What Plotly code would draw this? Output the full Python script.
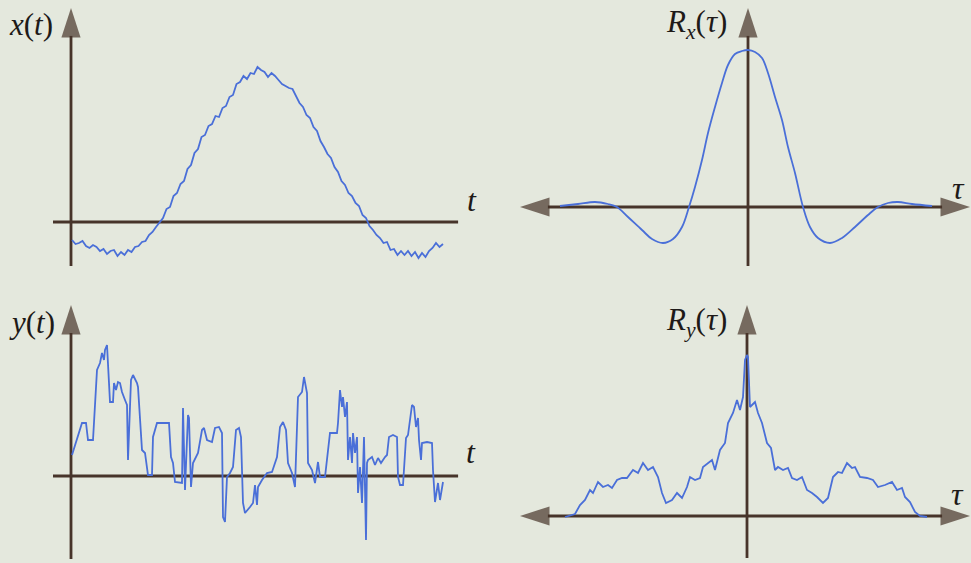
import plotly.graph_objects as go

W, H = 971, 563

# ---------------- data (arbitrary units) ----------------
# x(t): uniformly sampled noisy slow wave
X_T0, X_DT = 1.0, 3.5
X_VALUES = [-18, -22, -21, -19, -24, -26, -23, -25, -29, -27, -32, -29, -28, -34, -30, -33,
            -28, -30, -25, -24, -20, -19, -13, -10, -5, 0, 4, 13, 15, 26, 29, 38, 41, 53, 57,
            69, 73, 85, 87, 96, 98, 106, 105, 114, 116, 125, 127, 138, 140, 146, 143, 149, 148,
            155, 152, 150, 145, 149, 146, 142, 138, 136, 134, 133, 126, 119, 115, 107, 104, 95,
            91, 81, 75, 68, 64, 55, 50, 41, 37, 29, 26, 19, 16, 7, 4, -4, -8, -13, -16, -21,
            -20, -28, -27, -33, -29, -33, -29, -34, -30, -36, -31, -35, -29, -26, -21, -25, -22]

# y(t): random-looking signal with abrupt jumps
Y_T = [1, 9, 11, 15, 17, 22, 26, 29, 31, 33, 34, 36, 37, 39, 42, 43, 45, 47, 49, 51, 54, 56,
       57, 58, 60, 62, 66, 67, 71, 74, 77, 81, 82, 86, 98, 100, 102, 104, 111, 112, 114, 117,
       118, 120, 122, 127, 131, 133, 136, 141, 144, 148, 151, 152, 154, 156, 159, 162, 165,
       168, 170, 172, 174, 179, 182, 184, 186, 187, 191, 196, 201, 206, 209, 212, 215, 217,
       221, 224, 227, 231, 233, 236, 237, 241, 244, 247, 249, 254, 259, 266, 267, 269, 271,
       272, 274, 276, 277, 279, 281, 282, 284, 286, 287, 289, 291, 293, 295, 296, 297, 301,
       304, 307, 310, 314, 316, 318, 322, 326, 327, 329, 332, 335, 337, 341, 343, 345, 347,
       348, 350, 351, 356, 361, 362, 364, 367, 369, 372]
Y_VALUES = [21, 46, 53, 53, 36, 36, 106, 113, 123, 116, 126, 131, 109, 74, 74, 93, 86, 94, 93,
            84, 76, 71, 16, 46, 96, 101, 93, 89, 26, 23, 1, 1, 39, 53, 53, 19, 13, -6, -7, 68,
            -14, 61, 58, -11, 13, 23, 46, 48, 36, 34, 48, 49, 43, -41, -46, -1, 3, 9, 46, 48,
            39, -27, -37, -31, -27, -9, -29, -11, -4, 3, 4, 19, 49, 54, 46, 13, 3, -11, 79, 84,
            99, 83, 13, 6, -7, 14, -1, -1, 43, 43, 53, 86, 69, 79, 59, 74, 16, 39, 13, 43, 23,
            39, -17, 9, -27, 39, -64, 13, 16, 19, 11, 18, 13, 19, 21, 39, 41, 39, -1, -9, -9,
            38, 41, 71, 69, 49, 58, 36, 16, 33, 34, 33, 6, -26, -7, -24, -6]

# R_x(tau): smooth autocorrelation
RX_TAU = [-188, -170, -153, -140, -131, -120, -106, -96, -85, -75, -66, -59, -53, -46, -40,
          -33, -26, -20, -13, -6, 0, 7, 14, 20, 27, 34, 40, 47, 55, 62, 70, 82, 94, 107, 120,
          130, 140, 150, 164, 184]
RX_VALUES = [1, 3, 5, 3, 0, -10, -23, -32, -36, -32, -20, 0, 20, 47, 74, 100, 124, 142, 153,
             156, 157, 155, 149, 134, 110, 87, 60, 34, 0, -20, -31, -36, -31, -20, -8, 0, 4, 5,
             3, 1]

# R_y(tau): noisy autocorrelation with sharp central peak
RY_TAU = [-182, -172, -167, -162, -157, -154, -149, -144, -139, -135, -130, -125, -120, -114,
          -109, -104, -99, -94, -89, -85, -81, -75, -70, -65, -60, -57, -52, -47, -44, -39, -35,
          -32, -27, -22, -19, -14, -10, -7, -4, -2, 0, 1, 3, 8, 11, 15, 20, 24, 28, 31, 36, 41,
          45, 50, 55, 60, 65, 70, 76, 81, 86, 91, 95, 100, 105, 108, 113, 120, 126, 131, 138,
          145, 150, 155, 158, 163, 168, 173, 180]
RY_VALUES = [-1, 2, 11, 16, 26, 23, 34, 29, 31, 28, 36, 38, 38, 46, 43, 53, 46, 49, 39, 23, 13,
             16, 23, 18, 29, 39, 36, 38, 49, 53, 56, 46, 66, 73, 93, 103, 116, 106, 119, 156,
             161, 159, 109, 114, 103, 93, 73, 68, 46, 49, 46, 48, 38, 36, 39, 26, 23, 19, 13,
             18, 39, 44, 43, 53, 48, 49, 39, 38, 36, 29, 31, 34, 26, 28, 19, 14, 4, 0, -1]

LABELS = {
    1: ("<i>x</i>(<i>t</i>)", "<i>t</i>"),
    2: ("<i>R<sub>x</sub></i>(<i>τ</i>)", "<i>τ</i>"),
    3: ("<i>y</i>(<i>t</i>)", "<i>t</i>"),
    4: ("<i>R<sub>y</sub></i>(<i>τ</i>)", "<i>τ</i>"),
}

# ---------------- styling / layout ----------------
BG = "#e4e8dd"
LINE = "#4a6fd8"
AXC = "#47342a"
TXT = "#1e1a18"
FONT = "Liberation Serif"
HEAD = 31

panels = [
    dict(n=1, xd=[0, 0.5], yd=[0.5, 1], o=(71, 222), xl=53, xr=486, yb=266, yt=8, both=False,
         lab=(31, 24), tl=(472, 200)),
    dict(n=2, xd=[0.5, 1], yd=[0.5, 1], o=(748, 207), xl=520, xr=970, yb=266, yt=8, both=True,
         lab=(696, 24), tl=(958, 188)),
    dict(n=3, xd=[0, 0.5], yd=[0, 0.5], o=(71, 476), xl=53, xr=486, yb=559, yt=305, both=False,
         lab=(32, 322), tl=(471, 452)),
    dict(n=4, xd=[0.5, 1], yd=[0, 0.5], o=(747, 516), xl=520, xr=970, yb=558, yt=305, both=True,
         lab=(696, 322), tl=(957, 494)),
]

series = {
    1: ([X_T0 + i * X_DT for i in range(len(X_VALUES))], X_VALUES, "linear"),
    2: (RX_TAU, RX_VALUES, "spline"),
    3: (Y_T, Y_VALUES, "linear"),
    4: (RY_TAU, RY_VALUES, "linear"),
}

fig = go.Figure()
annotations = []


def arrow(xs, ys, xr, yr):
    fig.add_trace(go.Scatter(
        x=xs, y=ys, mode="lines+markers", xaxis=xr, yaxis=yr,
        line=dict(color=AXC, width=2.8),
        marker=dict(symbol="arrow", size=[0, HEAD], angleref="previous", color=AXC,
                    line=dict(width=0)),
        cliponaxis=False, hoverinfo="skip", showlegend=False))


for p in panels:
    n = p["n"]
    ox, oy = p["o"]
    xa = "xaxis" if n == 1 else f"xaxis{n}"
    ya = "yaxis" if n == 1 else f"yaxis{n}"
    xr = "x" if n == 1 else f"x{n}"
    yr = "y" if n == 1 else f"y{n}"
    x0 = p["xd"][0] * W - ox
    x1 = p["xd"][1] * W - ox
    y0 = oy - H * (1 - p["yd"][0])
    y1 = oy - H * (1 - p["yd"][1])
    fig.update_layout({
        xa: dict(domain=p["xd"], range=[x0, x1], visible=False, anchor=yr, fixedrange=True),
        ya: dict(domain=p["yd"], range=[y0, y1], visible=False, anchor=xr, fixedrange=True),
    })
    # axes with arrowheads
    if p["both"]:
        arrow([0, p["xl"] - ox], [0, 0], xr, yr)
        arrow([0, p["xr"] - ox], [0, 0], xr, yr)
    else:
        arrow([p["xl"] - ox, p["xr"] - ox], [0, 0], xr, yr)
    arrow([0, 0], [oy - p["yb"], oy - p["yt"]], xr, yr)

    xs, ys, shape = series[n]
    fig.add_trace(go.Scatter(x=xs, y=ys, mode="lines", xaxis=xr, yaxis=yr,
                             line=dict(color=LINE, width=1.8, shape=shape),
                             hoverinfo="skip", showlegend=False))

    lab, tlab = LABELS[n]
    annotations.append(dict(xref=xr, yref=yr, x=p["lab"][0] - ox, y=oy - p["lab"][1],
                            text=lab, showarrow=False,
                            font=dict(family=FONT, size=31, color=TXT)))
    annotations.append(dict(xref=xr, yref=yr, x=p["tl"][0] - ox, y=oy - p["tl"][1],
                            text=tlab, showarrow=False,
                            font=dict(family=FONT, size=32, color=TXT)))

fig.update_layout(
    width=W, height=H, margin=dict(l=0, r=0, t=0, b=0),
    paper_bgcolor=BG, plot_bgcolor="rgba(0,0,0,0)",
    annotations=annotations, showlegend=False,
)

fig.write_html(
    "out.html",
    config={"displayModeBar": False},
    post_script="document.body.style.margin='0';document.body.style.background='%s';" % BG,
)
